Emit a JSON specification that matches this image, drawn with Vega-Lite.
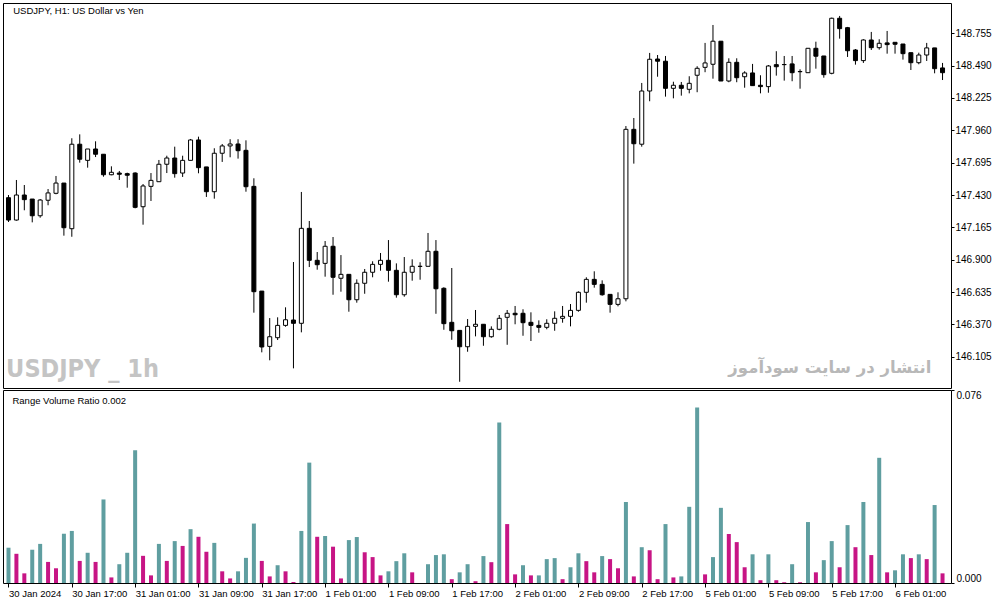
{
"$schema": "https://vega.github.io/schema/vega-lite/v6.json",
"background": "white",
"padding": {"left": 2, "top": 2, "right": 0, "bottom": 0},
"spacing": 0,
"config": {
  "view": {"stroke": "black", "strokeWidth": 1},
  "axis": {"domain": false, "grid": false, "title": null, "labelFont": "Liberation Sans", "labelFontSize": 10, "labelColor": "black", "tickColor": "black", "tickSize": 3, "labelOverlap": false},
  "text": {"font": "Liberation Sans"}
},
"datasets": {"bars": [
{"i":0,"open":147.408,"high":147.430,"low":147.209,"close":147.225,"ratio":0.0139,"dir":"up"},
{"i":1,"open":147.225,"high":147.553,"low":147.220,"close":147.430,"ratio":0.0115,"dir":"down"},
{"i":2,"open":147.430,"high":147.512,"low":147.305,"close":147.392,"ratio":0.0038,"dir":"down"},
{"i":3,"open":147.397,"high":147.397,"low":147.206,"close":147.260,"ratio":0.0131,"dir":"up"},
{"i":4,"open":147.260,"high":147.397,"low":147.244,"close":147.389,"ratio":0.0154,"dir":"up"},
{"i":5,"open":147.387,"high":147.479,"low":147.346,"close":147.447,"ratio":0.0083,"dir":"down"},
{"i":6,"open":147.444,"high":147.586,"low":147.436,"close":147.528,"ratio":0.0058,"dir":"down"},
{"i":7,"open":147.528,"high":147.528,"low":147.097,"close":147.162,"ratio":0.0194,"dir":"up"},
{"i":8,"open":147.154,"high":147.895,"low":147.088,"close":147.846,"ratio":0.0205,"dir":"up"},
{"i":9,"open":147.846,"high":147.927,"low":147.695,"close":147.723,"ratio":0.0087,"dir":"down"},
{"i":10,"open":147.714,"high":147.807,"low":147.654,"close":147.807,"ratio":0.0119,"dir":"up"},
{"i":11,"open":147.807,"high":147.870,"low":147.741,"close":147.764,"ratio":0.0083,"dir":"down"},
{"i":12,"open":147.764,"high":147.764,"low":147.580,"close":147.596,"ratio":0.0329,"dir":"up"},
{"i":13,"open":147.596,"high":147.665,"low":147.592,"close":147.616,"ratio":0.0022,"dir":"down"},
{"i":14,"open":147.610,"high":147.627,"low":147.553,"close":147.600,"ratio":0.0074,"dir":"up"},
{"i":15,"open":147.605,"high":147.613,"low":147.490,"close":147.592,"ratio":0.0119,"dir":"up"},
{"i":16,"open":147.610,"high":147.616,"low":147.321,"close":147.329,"ratio":0.0523,"dir":"up"},
{"i":17,"open":147.334,"high":147.520,"low":147.187,"close":147.504,"ratio":0.0107,"dir":"down"},
{"i":18,"open":147.501,"high":147.610,"low":147.381,"close":147.550,"ratio":0.0030,"dir":"down"},
{"i":19,"open":147.539,"high":147.717,"low":147.539,"close":147.682,"ratio":0.0154,"dir":"up"},
{"i":20,"open":147.682,"high":147.752,"low":147.610,"close":147.733,"ratio":0.0087,"dir":"down"},
{"i":21,"open":147.733,"high":147.826,"low":147.572,"close":147.605,"ratio":0.0165,"dir":"up"},
{"i":22,"open":147.610,"high":147.752,"low":147.578,"close":147.714,"ratio":0.0146,"dir":"down"},
{"i":23,"open":147.714,"high":147.889,"low":147.714,"close":147.881,"ratio":0.0212,"dir":"up"},
{"i":24,"open":147.881,"high":147.908,"low":147.608,"close":147.654,"ratio":0.0182,"dir":"down"},
{"i":25,"open":147.660,"high":147.660,"low":147.414,"close":147.457,"ratio":0.0123,"dir":"down"},
{"i":26,"open":147.457,"high":147.813,"low":147.400,"close":147.772,"ratio":0.0158,"dir":"up"},
{"i":27,"open":147.772,"high":147.848,"low":147.701,"close":147.832,"ratio":0.0046,"dir":"down"},
{"i":28,"open":147.832,"high":147.887,"low":147.739,"close":147.848,"ratio":0.0018,"dir":"down"},
{"i":29,"open":147.848,"high":147.887,"low":147.728,"close":147.793,"ratio":0.0046,"dir":"up"},
{"i":30,"open":147.796,"high":147.878,"low":147.457,"close":147.498,"ratio":0.0099,"dir":"up"},
{"i":31,"open":147.501,"high":147.567,"low":146.466,"close":146.638,"ratio":0.0234,"dir":"up"},
{"i":32,"open":146.643,"high":146.643,"low":146.141,"close":146.185,"ratio":0.0087,"dir":"down"},
{"i":33,"open":146.190,"high":146.422,"low":146.076,"close":146.269,"ratio":0.0026,"dir":"down"},
{"i":34,"open":146.261,"high":146.428,"low":146.242,"close":146.362,"ratio":0.0070,"dir":"up"},
{"i":35,"open":146.362,"high":146.510,"low":146.351,"close":146.408,"ratio":0.0046,"dir":"down"},
{"i":36,"open":146.406,"high":146.881,"low":146.010,"close":146.379,"ratio":0.0004,"dir":"down"},
{"i":37,"open":146.379,"high":147.455,"low":146.305,"close":147.157,"ratio":0.0205,"dir":"up"},
{"i":38,"open":147.157,"high":147.217,"low":146.840,"close":146.895,"ratio":0.0474,"dir":"up"},
{"i":39,"open":146.895,"high":146.963,"low":146.818,"close":146.859,"ratio":0.0182,"dir":"down"},
{"i":40,"open":146.870,"high":147.053,"low":146.761,"close":147.010,"ratio":0.0185,"dir":"up"},
{"i":41,"open":147.010,"high":147.086,"low":146.613,"close":146.756,"ratio":0.0143,"dir":"down"},
{"i":42,"open":146.748,"high":146.938,"low":146.638,"close":146.780,"ratio":0.0018,"dir":"down"},
{"i":43,"open":146.780,"high":146.780,"low":146.474,"close":146.572,"ratio":0.0169,"dir":"up"},
{"i":44,"open":146.572,"high":146.739,"low":146.548,"close":146.707,"ratio":0.0181,"dir":"up"},
{"i":45,"open":146.707,"high":146.824,"low":146.621,"close":146.797,"ratio":0.0121,"dir":"down"},
{"i":46,"open":146.797,"high":146.887,"low":146.756,"close":146.862,"ratio":0.0102,"dir":"down"},
{"i":47,"open":146.862,"high":146.955,"low":146.810,"close":146.895,"ratio":0.0030,"dir":"down"},
{"i":48,"open":146.895,"high":147.061,"low":146.720,"close":146.813,"ratio":0.0046,"dir":"up"},
{"i":49,"open":146.813,"high":146.870,"low":146.589,"close":146.613,"ratio":0.0086,"dir":"up"},
{"i":50,"open":146.613,"high":146.922,"low":146.597,"close":146.797,"ratio":0.0117,"dir":"up"},
{"i":51,"open":146.797,"high":146.903,"low":146.728,"close":146.846,"ratio":0.0042,"dir":"down"},
{"i":52,"open":146.846,"high":146.879,"low":146.736,"close":146.845,"ratio":0.0000,"dir":"down"},
{"i":53,"open":146.846,"high":147.119,"low":146.846,"close":146.969,"ratio":0.0074,"dir":"up"},
{"i":54,"open":146.969,"high":147.061,"low":146.457,"close":146.662,"ratio":0.0110,"dir":"up"},
{"i":55,"open":146.666,"high":146.674,"low":146.326,"close":146.376,"ratio":0.0113,"dir":"up"},
{"i":56,"open":146.387,"high":146.832,"low":146.244,"close":146.318,"ratio":0.0015,"dir":"down"},
{"i":57,"open":146.321,"high":146.321,"low":145.900,"close":146.187,"ratio":0.0042,"dir":"up"},
{"i":58,"open":146.187,"high":146.414,"low":146.146,"close":146.354,"ratio":0.0074,"dir":"up"},
{"i":59,"open":146.354,"high":146.488,"low":146.272,"close":146.371,"ratio":0.0007,"dir":"down"},
{"i":60,"open":146.371,"high":146.371,"low":146.195,"close":146.269,"ratio":0.0106,"dir":"up"},
{"i":61,"open":146.269,"high":146.354,"low":146.261,"close":146.330,"ratio":0.0082,"dir":"down"},
{"i":62,"open":146.330,"high":146.447,"low":146.322,"close":146.420,"ratio":0.0632,"dir":"up"},
{"i":63,"open":146.428,"high":146.488,"low":146.203,"close":146.461,"ratio":0.0232,"dir":"down"},
{"i":64,"open":146.461,"high":146.521,"low":146.371,"close":146.449,"ratio":0.0034,"dir":"down"},
{"i":65,"open":146.461,"high":146.494,"low":146.277,"close":146.384,"ratio":0.0070,"dir":"up"},
{"i":66,"open":146.387,"high":146.469,"low":146.234,"close":146.362,"ratio":0.0030,"dir":"down"},
{"i":67,"open":146.362,"high":146.403,"low":146.302,"close":146.346,"ratio":0.0030,"dir":"up"},
{"i":68,"open":146.346,"high":146.412,"low":146.330,"close":146.379,"ratio":0.0094,"dir":"up"},
{"i":69,"open":146.379,"high":146.477,"low":146.318,"close":146.420,"ratio":0.0098,"dir":"up"},
{"i":70,"open":146.420,"high":146.521,"low":146.384,"close":146.436,"ratio":0.0015,"dir":"down"},
{"i":71,"open":146.436,"high":146.537,"low":146.354,"close":146.485,"ratio":0.0062,"dir":"up"},
{"i":72,"open":146.485,"high":146.641,"low":146.474,"close":146.633,"ratio":0.0117,"dir":"up"},
{"i":73,"open":146.633,"high":146.756,"low":146.548,"close":146.739,"ratio":0.0086,"dir":"down"},
{"i":74,"open":146.739,"high":146.805,"low":146.671,"close":146.698,"ratio":0.0042,"dir":"down"},
{"i":75,"open":146.698,"high":146.731,"low":146.605,"close":146.613,"ratio":0.0106,"dir":"up"},
{"i":76,"open":146.616,"high":146.616,"low":146.466,"close":146.534,"ratio":0.0094,"dir":"down"},
{"i":77,"open":146.534,"high":146.633,"low":146.518,"close":146.580,"ratio":0.0058,"dir":"down"},
{"i":78,"open":146.580,"high":147.995,"low":146.559,"close":147.968,"ratio":0.0319,"dir":"up"},
{"i":79,"open":147.968,"high":148.061,"low":147.687,"close":147.850,"ratio":0.0026,"dir":"down"},
{"i":80,"open":147.846,"high":148.348,"low":147.826,"close":148.282,"ratio":0.0141,"dir":"up"},
{"i":81,"open":148.282,"high":148.594,"low":148.198,"close":148.542,"ratio":0.0129,"dir":"down"},
{"i":82,"open":148.544,"high":148.577,"low":148.399,"close":148.526,"ratio":0.0015,"dir":"down"},
{"i":83,"open":148.526,"high":148.569,"low":148.236,"close":148.304,"ratio":0.0232,"dir":"up"},
{"i":84,"open":148.304,"high":148.358,"low":148.222,"close":148.329,"ratio":0.0022,"dir":"down"},
{"i":85,"open":148.329,"high":148.356,"low":148.244,"close":148.304,"ratio":0.0026,"dir":"up"},
{"i":86,"open":148.296,"high":148.403,"low":148.263,"close":148.345,"ratio":0.0300,"dir":"up"},
{"i":87,"open":148.411,"high":148.485,"low":148.272,"close":148.468,"ratio":0.0691,"dir":"up"},
{"i":88,"open":148.476,"high":148.676,"low":148.436,"close":148.512,"ratio":0.0034,"dir":"down"},
{"i":89,"open":148.501,"high":148.823,"low":148.383,"close":148.690,"ratio":0.0102,"dir":"up"},
{"i":90,"open":148.690,"high":148.690,"low":148.364,"close":148.364,"ratio":0.0296,"dir":"up"},
{"i":91,"open":148.364,"high":148.550,"low":148.354,"close":148.517,"ratio":0.0193,"dir":"down"},
{"i":92,"open":148.517,"high":148.550,"low":148.354,"close":148.391,"ratio":0.0161,"dir":"down"},
{"i":93,"open":148.399,"high":148.444,"low":148.309,"close":148.430,"ratio":0.0062,"dir":"down"},
{"i":94,"open":148.430,"high":148.504,"low":148.326,"close":148.326,"ratio":0.0113,"dir":"up"},
{"i":95,"open":148.329,"high":148.411,"low":148.263,"close":148.318,"ratio":0.0011,"dir":"down"},
{"i":96,"open":148.318,"high":148.495,"low":148.268,"close":148.487,"ratio":0.0113,"dir":"up"},
{"i":97,"open":148.498,"high":148.608,"low":148.408,"close":148.481,"ratio":0.0011,"dir":"down"},
{"i":98,"open":148.498,"high":148.569,"low":148.367,"close":148.499,"ratio":0.0003,"dir":"down"},
{"i":99,"open":148.504,"high":148.569,"low":148.362,"close":148.432,"ratio":0.0074,"dir":"up"},
{"i":100,"open":148.440,"high":148.460,"low":148.301,"close":148.442,"ratio":0.0003,"dir":"down"},
{"i":101,"open":148.432,"high":148.632,"low":148.432,"close":148.632,"ratio":0.0240,"dir":"up"},
{"i":102,"open":148.632,"high":148.686,"low":148.465,"close":148.567,"ratio":0.0042,"dir":"down"},
{"i":103,"open":148.569,"high":148.569,"low":148.391,"close":148.416,"ratio":0.0090,"dir":"up"},
{"i":104,"open":148.427,"high":148.883,"low":148.419,"close":148.878,"ratio":0.0165,"dir":"up"},
{"i":105,"open":148.878,"high":148.897,"low":148.711,"close":148.793,"ratio":0.0062,"dir":"down"},
{"i":106,"open":148.801,"high":148.807,"low":148.561,"close":148.612,"ratio":0.0228,"dir":"up"},
{"i":107,"open":148.618,"high":148.626,"low":148.498,"close":148.531,"ratio":0.0141,"dir":"down"},
{"i":108,"open":148.531,"high":148.706,"low":148.512,"close":148.700,"ratio":0.0319,"dir":"up"},
{"i":109,"open":148.700,"high":148.766,"low":148.618,"close":148.637,"ratio":0.0110,"dir":"down"},
{"i":110,"open":148.637,"high":148.706,"low":148.621,"close":148.673,"ratio":0.0493,"dir":"up"},
{"i":111,"open":148.676,"high":148.774,"low":148.588,"close":148.662,"ratio":0.0042,"dir":"down"},
{"i":112,"open":148.681,"high":148.681,"low":148.588,"close":148.665,"ratio":0.0050,"dir":"up"},
{"i":113,"open":148.667,"high":148.667,"low":148.539,"close":148.588,"ratio":0.0113,"dir":"up"},
{"i":114,"open":148.596,"high":148.596,"low":148.454,"close":148.514,"ratio":0.0098,"dir":"down"},
{"i":115,"open":148.514,"high":148.596,"low":148.501,"close":148.577,"ratio":0.0113,"dir":"up"},
{"i":116,"open":148.577,"high":148.676,"low":148.528,"close":148.635,"ratio":0.0094,"dir":"down"},
{"i":117,"open":148.635,"high":148.635,"low":148.427,"close":148.465,"ratio":0.0307,"dir":"up"},
{"i":118,"open":148.471,"high":148.512,"low":148.372,"close":148.432,"ratio":0.0038,"dir":"down"}
]},
"vconcat": [
{
  "width": 948, "height": 385,
  "data": {"name": "bars"},
  "layer": [
    {"mark": {"type": "rule", "color": "black", "strokeWidth": 1, "clip": true},
     "encoding": {
       "x": {"field": "i", "type": "quantitative", "scale": {"domain": [-0.0625, 118.4375], "nice": false, "zero": false}, "axis": null},
       "y": {"field": "low", "type": "quantitative", "scale": {"domain": [145.849, 149.003], "nice": false, "zero": false},
             "axis": {"orient": "right", "values": [146.105,146.37,146.635,146.9,147.165,147.43,147.695,147.96,148.225,148.49,148.755], "format": ".3f", "labelPadding": 1, "labelOverlap": false}},
       "y2": {"field": "high"}}},
    {"mark": {"type": "bar", "size": 4, "stroke": "black", "strokeWidth": 1, "clip": true, "orient": "vertical"},
     "encoding": {
       "x": {"field": "i", "type": "quantitative"},
       "y": {"field": "open", "type": "quantitative",
             "axis": {"orient": "right", "values": [146.105,146.37,146.635,146.9,147.165,147.43,147.695,147.96,148.225,148.49,148.755], "format": ".3f", "labelPadding": 1, "labelOverlap": false}},
       "y2": {"field": "close"},
       "fill": {"condition": {"test": "datum.close >= datum.open", "value": "white"}, "value": "black"}}},
    {"data": {"values": [{}]},
     "mark": {"type": "text", "text": "USDJPY, H1:  US Dollar vs Yen", "align": "left", "baseline": "middle", "fontSize": 9.5, "font": "Liberation Sans", "color": "black"},
     "encoding": {"x": {"datum": 0.6},
       "y": {"datum": 148.938, "axis": {"orient": "right", "values": [146.105,146.37,146.635,146.9,147.165,147.43,147.695,147.96,148.225,148.49,148.755], "format": ".3f", "labelPadding": 1, "labelOverlap": false}}}},
    {"data": {"values": [{}]},
     "mark": {"type": "text", "text": "USDJPY _  1h", "align": "left", "baseline": "middle", "fontSize": 25, "font": "DejaVu Sans Condensed", "fontWeight": "bold", "color": "#C4C4C4"},
     "encoding": {"x": {"datum": -0.3},
       "y": {"datum": 146.005, "axis": {"orient": "right", "values": [146.105,146.37,146.635,146.9,147.165,147.43,147.695,147.96,148.225,148.49,148.755], "format": ".3f", "labelPadding": 1, "labelOverlap": false}}}},
    {"data": {"values": [{}]},
     "mark": {"type": "text", "text": "انتشار در سایت سودآموز", "align": "right", "baseline": "middle", "fontSize": 16.5, "font": "DejaVu Sans", "fontWeight": "bold", "color": "#B8B8B8"},
     "encoding": {"x": {"datum": 116.6},
       "y": {"datum": 146.012, "axis": {"orient": "right", "values": [146.105,146.37,146.635,146.9,147.165,147.43,147.695,147.96,148.225,148.49,148.755], "format": ".3f", "labelPadding": 1, "labelOverlap": false}}}}
  ]
},
{
  "width": 948, "height": 193,
  "data": {"name": "bars"},
  "layer": [
    {"mark": {"type": "bar", "size": 4, "orient": "vertical"},
     "encoding": {
       "x": {"field": "i", "type": "quantitative", "scale": {"domain": [-0.0625, 118.4375], "nice": false, "zero": false},
             "axis": {"values": [0,8,16,24,32,40,48,56,64,72,80,88,96,104,112], "labelExpr": "['30 Jan 2024','30 Jan 17:00','31 Jan 01:00','31 Jan 09:00','31 Jan 17:00','1 Feb 01:00','1 Feb 09:00','1 Feb 17:00','2 Feb 01:00','2 Feb 09:00','2 Feb 17:00','5 Feb 01:00','5 Feb 09:00','5 Feb 17:00','6 Feb 01:00'][round(datum.value/8)]", "labelAlign": "left", "labelPadding": 1, "tickSize": 4, "labelFontSize": 9.5, "labelFlush": false}},
       "y": {"field": "ratio", "type": "quantitative", "scale": {"domain": [0, 0.076], "nice": false},
             "axis": {"orient": "right", "values": [0, 0.076], "format": ".3f", "labelFlush": true, "labelPadding": 2}},
       "color": {"field": "dir", "type": "nominal", "scale": {"domain": ["up", "down"], "range": ["#5F9EA0", "#C71585"]}, "legend": null}}},
    {"data": {"values": [{}]},
     "mark": {"type": "text", "text": "Range Volume Ratio 0.002", "align": "left", "baseline": "middle", "fontSize": 9.5, "font": "Liberation Sans", "color": "black"},
     "encoding": {"x": {"datum": 0.5}, "y": {"datum": 0.0715}}}
  ]
}
]
}
